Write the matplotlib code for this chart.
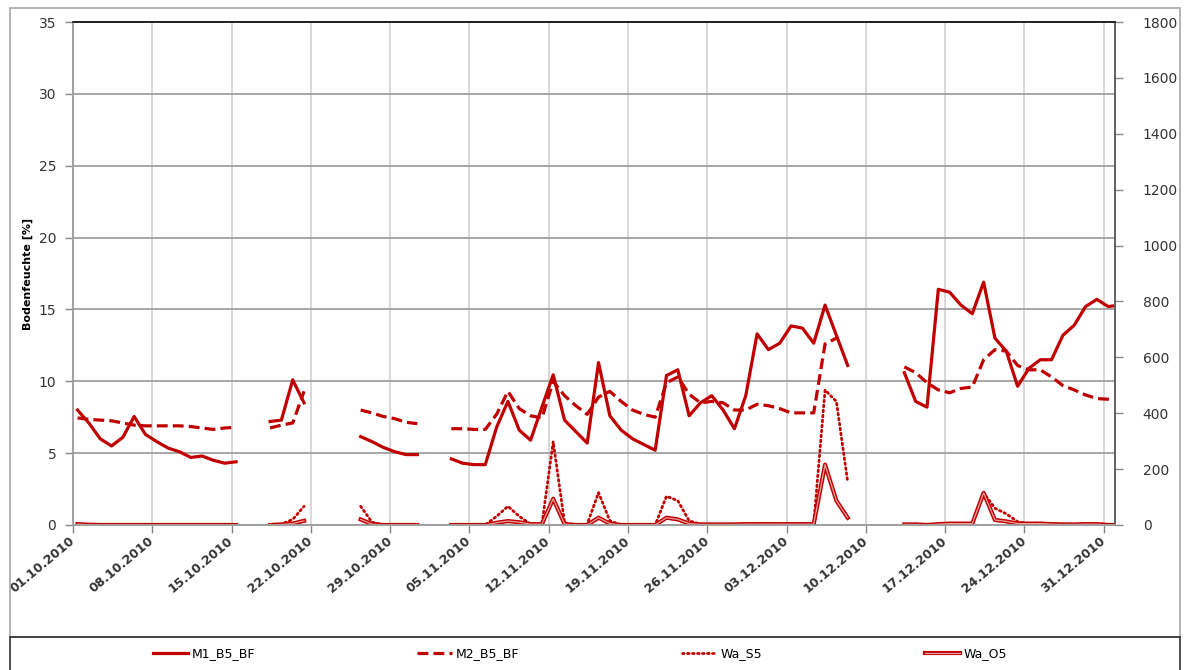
"""Bodenfeuchte M1/M2 und Wasserstand S5/O5, Oktober - Dezember 2010."""

import datetime as dt
import numpy as np
import matplotlib
matplotlib.use("Agg")
import matplotlib.pyplot as plt
import matplotlib.patheffects as pe
from matplotlib.patches import Rectangle
from matplotlib.transforms import ScaledTranslation

nan = np.nan
START = dt.date(2010, 10, 1)
SAMPLE_OFFSET = 0.4  # readings sit a little after midnight on the date axis

# one value per day since 01.10.2010 (day 0 .. 92), nan = no data
m1_b5_bf = [
    8.0, 7.1, 6.0, 5.5, 6.1, 7.55, 6.3, 5.8, 5.35, 5.1, 4.7, 4.8, 4.5, 4.3, 4.4,
    nan, nan,
    7.2, 7.3, 10.1, 8.5,
    nan, nan, nan, nan,
    6.15, 5.8, 5.4, 5.1, 4.9, 4.9,
    nan, nan,
    4.6, 4.3, 4.2, 4.2, 6.8, 8.6, 6.6, 5.9, 8.2, 10.45, 7.3, 6.5, 5.7, 11.3, 7.6, 6.6,
    6.0, 5.6, 5.2, 10.4, 10.8, 7.6, 8.5, 9.0, 8.0, 6.7, 9.0, 13.3, 12.2, 12.65, 13.85,
    13.7, 12.65, 15.3, 13.2, 11.1,
    nan, nan, nan, nan,
    10.6, 8.6, 8.2, 16.4, 16.2, 15.3, 14.7, 16.9, 13.0, 12.1, 9.65, 10.9, 11.5, 11.5,
    13.2, 13.9, 15.2, 15.7, 15.2, 15.3,
]
m2_b5_bf = [
    7.45, 7.35, 7.3, 7.25, 7.1, 6.95, 6.9, 6.9, 6.9, 6.9, 6.85, 6.75, 6.65, 6.75, 6.8,
    nan, nan,
    6.75, 6.95, 7.1, 9.3,
    nan, nan, nan, nan,
    8.0, 7.8, 7.55, 7.4, 7.15, 7.05,
    nan, nan,
    6.7, 6.7, 6.65, 6.65, 7.7, 9.3, 8.1, 7.6, 7.45, 10.0, 9.0, 8.3, 7.7, 8.9, 9.3, 8.6,
    8.0, 7.7, 7.5, 9.9, 10.3, 9.1, 8.5, 8.6, 8.5, 8.0, 8.0, 8.4, 8.3, 8.1, 7.8,
    7.8, 7.8, 12.6, 13.0, nan,
    nan, nan, nan, nan,
    11.0, 10.6, 9.9, 9.4, 9.2, 9.5, 9.6, 11.5, 12.2, 12.1, 11.1, 10.8, 10.8, 10.3,
    9.7, 9.4, 9.05, 8.8, 8.75, 8.7,
]
# right axis values
wa_s5 = [
    0, 0, 0, 0, 0, 0, 0, 0, 0, 0, 0, 0, 0, 0, 0,
    nan, nan,
    0, 3, 20, 67,
    nan, nan, nan, nan,
    67, 10, 0, 0, 0, 0,
    nan, nan,
    0, 0, 0, 0, 31, 67, 31, 3, 3, 298, 8, 0, 3, 116, 15, 0,
    0, 0, 0, 103, 87, 15, 3, 2, 2, 3, 4, 5, 5, 4, 5,
    5, 5, 483, 442, 154,
    nan, nan, nan, nan,
    3, 3, 0, 3, 5, 5, 5, 115, 60, 40, 12, 5, 7, 5,
    3, 2, 5, 5, 2, 0,
]
wa_o5 = [
    3, 1, 0, 0, 0, 0, 0, 0, 0, 0, 0, 0, 0, 0, 0,
    nan, nan,
    0, 2, 5, 15,
    nan, nan, nan, nan,
    20, 3, 0, 0, 0, 0,
    nan, nan,
    0, 0, 0, 0, 8, 14, 10, 3, 3, 94, 3, 0, 0, 26, 5, 0,
    0, 0, 0, 26, 20, 5, 2, 2, 2, 2, 3, 3, 3, 3, 3,
    3, 3, 216, 87, 26,
    nan, nan, nan, nan,
    2, 2, 0, 3, 5, 5, 5, 115, 18, 13, 5, 5, 5, 3,
    2, 2, 3, 3, 0, 0,
]

tick_days = [0, 7, 14, 21, 28, 35, 42, 49, 56, 63, 70, 77, 84, 91]
left_ticks = [0, 5, 10, 15, 20, 25, 30, 35]
right_ticks = [0, 200, 400, 600, 800, 1000, 1200, 1400, 1600, 1800]

RED = "#C00000"
LW = 2.3

days = np.arange(len(m1_b5_bf)) + SAMPLE_OFFSET
tick_labels = [(START + dt.timedelta(days=d)).strftime("%d.%m.%Y") for d in tick_days]

fig = plt.figure(figsize=(11.86, 6.70), dpi=100)
ax = fig.add_axes([73 / 1186, 1 - 525 / 670, (1115 - 73) / 1186, (525 - 22) / 670])
ax2 = ax.twinx()

l1, = ax.plot(days, m1_b5_bf, color=RED, lw=LW, label="M1_B5_BF")
l2, = ax.plot(days, m2_b5_bf, color=RED, lw=LW, linestyle=(0, (3.4, 1.6)),
              label="M2_B5_BF")
l3, = ax2.plot(days, wa_s5, color=RED, lw=2.0, linestyle=(0, (0.6, 1.2)),
               dash_capstyle="round", label="Wa_S5")
l4, = ax2.plot(days, wa_o5, color="#E8A0A0", lw=0.9, label="Wa_O5",
               path_effects=[pe.Stroke(linewidth=3.0, foreground=RED), pe.Normal()])

ax.set_xlim(0, 92)
ax.set_ylim(0, 35)
ax2.set_ylim(0, 1800)
ax.set_xticks(tick_days)
ax.set_xticklabels(tick_labels, rotation=40, ha="right", va="center",
                   rotation_mode="anchor", fontsize=9, fontweight="bold", color="#333333")
for lab in ax.get_xticklabels():
    lab.set_transform(lab.get_transform() + ScaledTranslation(0.1, -0.03, fig.dpi_scale_trans))
ax.set_yticks(left_ticks)
ax2.set_yticks(right_ticks)
ax.tick_params(axis="y", labelsize=10, labelcolor="#333333", color="#888888",
               length=6, width=1, pad=6)
ax.tick_params(axis="x", color="#888888", length=6, width=1, pad=4)
ax2.tick_params(axis="y", labelsize=10, labelcolor="#333333", color="#888888",
                length=6, width=1, pad=14)

ax.set_axisbelow(True)
ax.xaxis.grid(True, color="#d6d6d6", lw=1.3)
ax.yaxis.grid(True, color="#a0a0a0", lw=1.3)
for a in (ax, ax2):
    a.spines["top"].set_color("#202020")
    a.spines["left"].set_color("#a0a0a0")
    a.spines["bottom"].set_color("#a0a0a0")
    a.spines["right"].set_color("#606060")
    for s in a.spines.values():
        s.set_linewidth(1.2)

ax.set_ylabel("Bodenfeuchte [%]", fontsize=8, fontweight="bold", labelpad=4)

# chart frame and legend box
fig.patches.append(Rectangle((10 / 1186, 1 - 637 / 670), 1170 / 1186, 629 / 670,
                             transform=fig.transFigure, fill=False,
                             edgecolor="#a8a8a8", lw=1.2))
fig.patches.append(Rectangle((10 / 1186, -0.01), 1170 / 1186, 1 - 637 / 670 + 0.01,
                             transform=fig.transFigure, fill=False,
                             edgecolor="#303030", lw=1.2))

fig.legend(handles=[l1, l2, l3, l4], loc="center", ncol=4,
           bbox_to_anchor=(580 / 1186, 1 - 654 / 670), frameon=False,
           handlelength=2.8, handletextpad=0.3, columnspacing=13,
           prop={"size": 9})

fig.savefig("out.png", dpi=100)
